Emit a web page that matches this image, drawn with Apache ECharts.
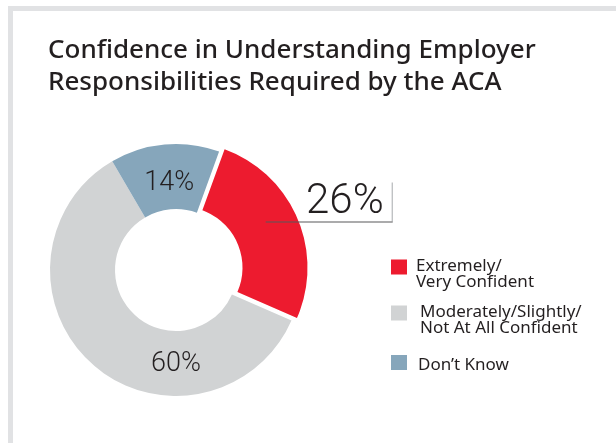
<!DOCTYPE html>
<html><head><meta charset="utf-8">
<script src="https://cdn.jsdelivr.net/npm/echarts@6/dist/echarts.min.js"></script>
<style>
html,body{margin:0;padding:0;background:#fff;}
#wrap{position:relative;width:616px;height:443px;overflow:hidden;background:#fff;}
.fr{position:absolute;background:#e1e2e4;}
#chart{position:absolute;left:0;top:0;width:616px;height:443px;}
</style></head><body>
<div id="wrap">
<div class="fr" style="left:8px;top:6px;width:608px;height:5px"></div>
<div class="fr" style="left:8px;top:6px;width:5px;height:437px"></div>
<div id="chart"></div></div>
<script>
const titleText = 'Confidence in Understanding Employer\nResponsibilities Required by the ACA';
const categories = ['Extremely/\nVery Confident', 'Moderately/Slightly/\nNot At All Confident', 'Don\u2019t Know'];
const values = [26, 60, 14];
const colors = ['#ed1b2f', '#d1d3d4', '#86a6bb'];

const FONT = '"Noto Sans", Roboto, sans-serif';
const NUMFONT = 'Roboto, "Noto Sans", sans-serif';
const TXT = '#231f20';
const chart = echarts.init(document.getElementById('chart'), null, {renderer: 'canvas'});

// legend swatch drawn in the upper part of a taller icon box so the text sits lower
const legendIcons = [
  'path://M0,0H16V15H0ZM0,30H16',
  'path://M0,0H16V15H0ZM0,30H16',
  'path://M0,0H16M0,5H16V20H0ZM0,30H16'
];
const legendPads = [[0, 0, 0, 4], [0, 0, 0, 8], [0, 0, 0, 6]];

const option = {
  animation: false,
  backgroundColor: 'transparent',
  title: {
    text: titleText,
    left: 48, top: 35, padding: 0,
    textStyle: {fontFamily: FONT, fontSize: 26, fontWeight: 500, color: TXT, lineHeight: 32}
  },
  legend: {
    orient: 'vertical',
    left: 391, top: 258,
    padding: 0,
    itemGap: 13,
    itemWidth: 16, itemHeight: 30,
    selectedMode: false,
    itemStyle: {borderWidth: 0},
    data: categories.map((c, i) => ({name: c, icon: legendIcons[i], textStyle: {padding: legendPads[i]}})),
    textStyle: {fontFamily: FONT, fontSize: 17, lineHeight: 16, color: TXT}
  },
  series: [{
    type: 'pie',
    center: [176, 270],
    radius: [61, 126],
    startAngle: 70,
    clockwise: true,
    avoidLabelOverlap: false,
    selectedMode: 'single',
    selectedOffset: 6,
    emphasis: {disabled: true},
    label: {
      position: 'inside',
      formatter: '{c}%',
      fontFamily: NUMFONT, fontSize: 27, fontWeight: 300, color: TXT,
      rich: {
        n: {fontFamily: NUMFONT, fontSize: 42, fontWeight: 300, color: TXT, lineHeight: 39, align: 'right', padding: [0, 8, 0, 0]},
        v: {fontSize: 1, width: 1, height: 39, lineHeight: 39, backgroundColor: '#a7a9ac', align: 'right'},
        h: {fontSize: 1, width: 127, height: 1, lineHeight: 1, backgroundColor: '#58595b'}
      }
    },
    labelLine: {show: false},
    labelLayout: function (p) {
      if (p.dataIndex === 0) return {dx: 59, dy: -27};
      if (p.dataIndex === 1) return {dx: 64, dy: 22};
      return {dx: 2, dy: 9};
    },
    data: categories.map((c, i) => {
      const d = {name: c, value: values[i], itemStyle: {color: colors[i]}};
      if (i === 0) {
        d.selected = true;
        d.label = {formatter: '{n|{c}%}{v| }\n{h| }'};
      }
      return d;
    })
  }]
};
chart.setOption(option);
</script></body></html>
